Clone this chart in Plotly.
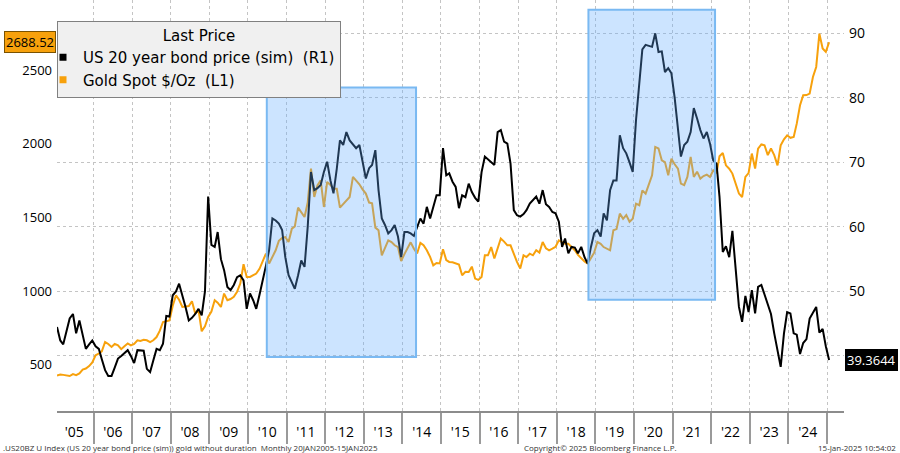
import pandas as pd
import plotly.graph_objs as go

# monthly samples, Jan 2005 .. Jan 2025
dates = pd.date_range("2005-01-01", periods=241, freq="MS") + pd.Timedelta(days=19)

# Gold Spot $/Oz (left axis)
gold = [
    425, 432, 430, 428, 422, 435, 428, 440, 466, 473, 490, 515,          # 2005
    563, 575, 590, 653, 640, 620, 640, 630, 605, 625, 643, 630,          # 2006
    640, 665, 660, 668, 665, 653, 665, 687, 730, 789, 795, 800,          # 2007
    900, 970, 940, 891, 895, 898, 930, 846, 870, 726, 760, 823,          # 2008
    860, 937, 920, 891, 982, 937, 945, 960, 995, 1050, 1181, 1095,       # 2009
    1095, 1105, 1118, 1150, 1200, 1254, 1186, 1230, 1276, 1340, 1360, 1366,  # 2010
    1332, 1423, 1438, 1566, 1530, 1502, 1600, 1831, 1638, 1717, 1751, 1570,  # 2011
    1740, 1720, 1694, 1694, 1566, 1590, 1611, 1638, 1774, 1750, 1724, 1690,  # 2012
    1661, 1600, 1595, 1430, 1412, 1242, 1290, 1344, 1332, 1310, 1298, 1203,  # 2013
    1250, 1298, 1330, 1287, 1254, 1326, 1310, 1276, 1231, 1174, 1190, 1187,  # 2014
    1283, 1210, 1197, 1195, 1186, 1180, 1106, 1130, 1129, 1165, 1084, 1075,  # 2015
    1095, 1242, 1242, 1298, 1220, 1290, 1356, 1335, 1310, 1310, 1250, 1197,  # 2016
    1152, 1242, 1230, 1253, 1242, 1276, 1260, 1332, 1290, 1276, 1287, 1300,  # 2017
    1344, 1330, 1320, 1320, 1298, 1276, 1245, 1220, 1200, 1186, 1220, 1260,  # 2018
    1332, 1320, 1298, 1285, 1276, 1412, 1420, 1525, 1490, 1515, 1470, 1490,  # 2019
    1593, 1582, 1683, 1661, 1730, 1785, 1978, 1967, 1887, 1875, 1785, 1898,  # 2020
    1860, 1831, 1729, 1718, 1774, 1910, 1774, 1810, 1763, 1780, 1790, 1774,  # 2021
    1819, 1800, 1914, 1937, 1853, 1830, 1797, 1729, 1661, 1638, 1774, 1800,  # 2022
    1933, 1831, 1967, 1995, 1989, 1922, 1967, 1922, 1853, 1989, 2030, 2057,  # 2023
    2040, 2046, 2136, 2261, 2329, 2330, 2340, 2453, 2521, 2747, 2646, 2623,  # 2024
    2688.52,                                                                 # 2025
]

# US 20 year bond price (sim) (right axis)
bond = [
    44.5, 42.4, 41.8, 44.0, 45.8, 46.5, 43.5, 45.5, 43.0, 41.1, 41.8, 42.4,  # 2005
    41.5, 41.1, 39.5, 37.8, 36.9, 36.9, 38.2, 39.6, 40.0, 40.4, 40.9, 40.0,  # 2006
    38.9, 40.9, 40.9, 40.8, 38.0, 37.5, 39.3, 41.1, 40.9, 41.9, 46.2, 46.1,  # 2007
    49.4, 50.0, 51.2, 49.5, 47.6, 45.5, 45.9, 46.5, 47.3, 46.3, 50.0, 64.7,  # 2008
    57.2, 56.9, 59.2, 55.0, 53.3, 50.7, 50.2, 51.0, 52.2, 52.5, 51.7, 47.3,  # 2009
    49.7, 48.6, 47.3, 49.5, 51.5, 54.0, 56.4, 61.3, 61.0, 60.5, 59.5, 55.3,  # 2010
    52.5, 51.5, 50.4, 52.5, 54.8, 53.8, 60.0, 68.5, 65.7, 66.0, 66.5, 68.5,  # 2011
    70.1, 67.2, 65.2, 69.0, 73.4, 72.7, 74.7, 73.4, 72.8, 72.2, 72.7, 70.0,  # 2012
    67.5, 69.1, 69.6, 71.9, 65.7, 61.3, 60.3, 59.0, 59.5, 60.3, 58.5, 55.3,  # 2013
    59.2, 59.2, 59.0, 58.6, 60.1, 61.3, 60.5, 63.1, 61.3, 63.0, 64.9, 64.9,  # 2014
    72.2, 68.0, 68.3, 67.0, 66.2, 62.9, 64.9, 64.6, 66.7, 65.4, 64.5, 63.9,  # 2015
    68.5, 70.9, 70.5, 70.1, 69.6, 74.7, 75.0, 73.2, 72.9, 69.8, 62.6, 61.8,  # 2016
    61.6, 62.0, 62.6, 63.6, 64.2, 64.7, 63.6, 65.7, 63.5, 63.1, 62.3, 62.1,  # 2017
    60.8, 56.9, 58.2, 55.9, 56.9, 56.8, 55.9, 56.9, 55.3, 54.3, 56.9, 59.0,  # 2018
    59.5, 58.5, 62.1, 61.0, 65.7, 67.2, 67.2, 74.2, 72.2, 71.4, 70.0, 68.5,  # 2019
    76.5, 82.0, 87.5, 88.2, 88.0, 87.9, 90.0, 87.1, 87.2, 84.0, 84.6, 83.8,  # 2020
    80.0, 75.5, 70.9, 72.7, 73.2, 74.7, 78.4, 76.8, 75.0, 73.7, 74.7, 72.9,  # 2021
    70.3, 69.8, 64.7, 56.1, 57.0, 55.3, 59.4, 53.5, 47.6, 45.3, 49.3, 46.8,  # 2022
    50.2, 46.6, 50.7, 51.0, 49.5, 47.8, 46.5, 43.5, 41.0, 38.3, 43.5, 46.8,  # 2023
    46.6, 43.5, 43.3, 40.3, 42.0, 42.6, 45.8, 46.8, 47.6, 43.6, 44.2, 41.5,  # 2024
    39.3644,                                                                 # 2025
]

# right axis labels (40 sits under the last-value tag)
bond_ticks = [40, 50, 60, 70, 80, 90]
bond_labels = ["", "50", "60", "70", "80", "90"]
gold_ticks = [500, 1000, 1500, 2000, 2500]

# highlighted periods (start, end, low, high on gold scale)
boxes = [
    ("2010-06-28", "2014-05-10", 552, 2381),
    ("2018-10-27", "2022-02-06", 941, 2910),
]

gold_col = "#f7a10c"
bond_col = "black"
font = "Open Sans"
grid_col = "#c4c4c4"

fig = go.Figure()

fig.add_trace(go.Scatter(x=dates, y=gold, mode="lines", line=dict(color=gold_col, width=2),
                         yaxis="y", showlegend=False))
fig.add_trace(go.Scatter(x=dates, y=bond, mode="lines", line=dict(color=bond_col, width=2),
                         yaxis="y2", showlegend=False))

# legend entries with square keys
fig.add_trace(go.Scatter(x=[None], y=[None], mode="markers", name="US 20 year bond price (sim)\u00a0\u00a0(R1)",
                         marker=dict(symbol="square", size=7, color=bond_col)))
fig.add_trace(go.Scatter(x=[None], y=[None], mode="markers", name="Gold Spot $/Oz\u00a0\u00a0(L1)",
                         marker=dict(symbol="square", size=7, color=gold_col)))

for x0, x1, y0, y1 in boxes:
    fig.add_shape(type="rect", xref="x", yref="y", x0=x0, x1=x1, y0=y0, y1=y1, layer="above",
                  fillcolor="rgba(95,172,255,0.32)", line=dict(color="#7ab9f2", width=2))

# last value tags
fig.add_annotation(x=0, xref="paper", xanchor="right", xshift=-1, y=gold[-1], yref="y",
                   text="2688.52", showarrow=False, bgcolor=gold_col, bordercolor="#7a5200",
                   borderwidth=1, borderpad=1, font=dict(color="black", size=13, family=font))
fig.add_annotation(x=1, xref="paper", xanchor="left", xshift=1, y=bond[-1], yref="y2",
                   text="39.3644", showarrow=False, bgcolor="black", bordercolor="black",
                   borderwidth=1, borderpad=1, font=dict(color="white", size=13, family=font))

# footer
foot = dict(size=8, color="#333333", family=font)
fig.add_annotation(x=-0.071, xref="paper", xanchor="left", y=-0.088, yref="paper", yanchor="middle",
                   text=".US20BZ U Index (US 20 year bond price (sim)) gold without duration\u00a0\u00a0Monthly 20JAN2005-15JAN2025",
                   showarrow=False, font=foot)
fig.add_annotation(x=0.591, xref="paper", xanchor="left", y=-0.088, yref="paper", yanchor="middle",
                   text="Copyright\u00a9 2025 Bloomberg Finance L.P.", showarrow=False, font=foot)
fig.add_annotation(x=1.0686, xref="paper", xanchor="right", y=-0.088, yref="paper", yanchor="middle",
                   text="15-Jan-2025 10:54:02", showarrow=False, font=foot)

fig.update_layout(
    width=900, height=453,
    margin=dict(l=57, r=56, t=0, b=42),
    plot_bgcolor="white", paper_bgcolor="white",
    font=dict(family=font, size=13, color="black"),
    legend=dict(x=0, y=0.95, xanchor="left", yanchor="top",
                bgcolor="#f0f0f0", bordercolor="#808080", borderwidth=1,
                font=dict(size=15, family="DejaVu Sans"), indentation=-15, itemwidth=30,
                title=dict(text="Last Price", side="top center", font=dict(size=15, family="DejaVu Sans"))),
    xaxis=dict(type="date", range=["2005-01-20", "2025-06-10"], automargin=False,
               tick0="2005-01-01", dtick="M12", ticklabelmode="period", tickformat="'%y",
               ticks="outside", ticklen=31, tickwidth=1.5, tickcolor="#9a9a9a",
               ticklabelstandoff=-24, tickfont=dict(size=14),
               showline=True, linecolor="#8c8c8c", linewidth=1.5,
               showgrid=True, gridcolor=grid_col, griddash="dot", gridwidth=1, zeroline=False),
    yaxis=dict(range=[184.7, 2975.7], tickvals=gold_ticks, automargin=False,
               showgrid=False, zeroline=False, ticks="", tickfont=dict(size=13), ticklabelstandoff=4),
    yaxis2=dict(range=[31.47, 95.16], tickvals=bond_ticks, ticktext=bond_labels, overlaying="y", side="right",
                automargin=False, showgrid=True, gridcolor=grid_col, griddash="dot", gridwidth=1,
                zeroline=False, ticks="", tickfont=dict(size=14), ticklabelstandoff=4),
)

# page body has a default 8px margin; drop it so the figure fills the window
fig.write_html("out.html", config={"displayModeBar": False},
               post_script="document.body.style.margin='0';")
